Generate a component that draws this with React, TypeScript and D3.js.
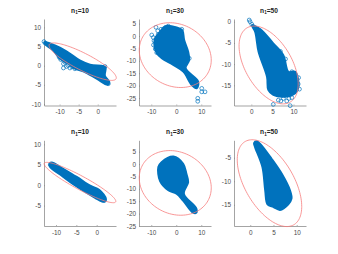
import React, { useEffect, useRef } from 'react';
import * as d3 from 'd3';

type Pt = [number, number];

const BLUE = '#0072bd';
const ELLIPSE_RED = '#f67c7c';
const AXIS_GRAY = '#7d7d7d';
const LABEL_GRAY = '#4a4a4a';

const titles = ['10', '30', '50', '10', '30', '50'];

// solid part of each cloud
const cloudA: Pt[] = [[-13.9, 6.2], [-11.2, 5.3], [-8.2, 3.8], [-4.7, 1.4], [-2, 0.3], [1.5, -0.1], [2.1, -0.5], [1.9, -2.6], [3.05, -4.3], [2.6, -5], [-0.3, -3.4], [-3.8, -1.5], [-6, -0.8], [-7.7, 0.5], [-9.9, 1.8], [-11.7, 4], [-13.9, 5.7]];
const cloudB: Pt[] = [[-4.5, 4], [0.2, 3.5], [2.4, 2.4], [3.2, -1.6], [4.8, -6.3], [5.2, -9.7], [3.8, -13], [8.8, -18.4], [8.2, -21.1], [6.2, -19.8], [2.8, -14.4], [-1.2, -11.7], [-5.8, -9], [-7.8, -7], [-8.8, -3.6], [-8.5, -0.9], [-6.5, 1.7]];
const cloudC: Pt[] = [[0.1, -0.8], [2.1, -1.7], [5.2, -5.1], [7.6, -7.9], [8.8, -11.8], [10.4, -11.8], [11.2, -15.3], [10.4, -16.9], [8, -17.7], [5.2, -17.3], [4, -16.1], [3.7, -13], [1.7, -7.1], [0.9, -2.4]];
const cloudD: Pt[] = [[-11.6, 5.3], [-10.8, 5.55], [-9, 4.5], [-4.9, 2.05], [-1.6, -0.1], [0.6, -1.1], [2.3, -3.4], [1.8, -4.1], [-0.4, -3.1], [-5.3, -0.1], [-9, 2.6], [-11.5, 4.5]];
const cloudE: Pt[] = [[-1.1, 3.1], [2.8, 0.1], [4.1, -3.9], [4.8, -7.3], [3.1, -12], [8.1, -18], [7.9, -19.8], [6.4, -19.4], [2.8, -14.9], [0.1, -12], [-3.2, -10.6], [-6.5, -6.9], [-7.2, -1.2], [-5.9, 0.8]];
const cloudF: Pt[] = [[1.4, -1.5], [2.1, -2], [4.6, -5.2], [6.8, -8.4], [8.6, -12], [8.9, -13.7], [8.2, -14.9], [6.4, -16.1], [5, -15.5], [3.7, -14.9], [3.2, -12], [2.6, -7], [1, -2.7], [0.8, -1.9]];

// open circles that stand clear of the solid part
const strayA: Pt[] = [[-9, 0.5], [-9, -0.6], [-8.2, -0.2], [-7.3, -0.6], [-6, -0.8], [-10.4, 2.9], [-9.7, 1.6], [-14.1, 6.3], [-13.8, 5.9], [2.8, -4.7], [1.9, -0.2], [-8.6, 0.9], [-6.8, -0.3], [-7.8, 0.1], [-10.1, 2.2]];
const strayB: Pt[] = [[-8.1, 3.5], [-7.4, 2.1], [-9.8, 0.4], [-6.1, 2.7], [-8.9, -1.9], [-7.8, -6.7], [5.2, -9], [10.2, -21.1], [11.5, -22.5], [10.2, -22.5], [8.6, -25.1], [8.6, -26.3], [2.2, 2.7], [-3.2, 4], [-9.2, -0.6], [-9.1, -3.6], [-8.4, -5.2], [-7.2, 0.6]];
const strayC: Pt[] = [[-0.5, 0.4], [-0.3, 0], [0.1, -0.6], [5.2, -19.5], [9.2, -19.8], [6.4, -18.5], [7.6, -18.1], [9.6, -17.9], [11.2, -13.2], [11.4, -15.9], [9.6, -11.8], [10.4, -13.7], [8.4, -18.7], [7, -18.7], [8.9, -18.1], [6.9, -7], [8.1, -8.8], [11.1, -14.7]];
const strayD: Pt[] = [[-11.4, 5], [1.9, -3.7]];
const strayE: Pt[] = [];
const strayF: Pt[] = [];

// ellipses as centre plus two conjugate half axes, in data units
const ellipseA = { c: [-3.95, 1.05], u: [8.77, -4.47], v: [1, 1.99] };
const ellipseB = { c: [-0.4, -7.7], u: [14.4, -2], v: [0, 12.9] };
const ellipseC = { c: [4.1, -10.2], u: [7, -4.5], v: [0, 8] };
const ellipseD = { c: [-4.1, 0.65], u: [8.77, -4.73], v: [0.78, 1.44] };
const ellipseE = { c: [-0.4, -7.6], u: [14.4, -2], v: [0, 12.9] };
const ellipseF = { c: [4.14, -10.4], u: [6.94, -4.96], v: [0, 7.77] };

const xTicks = [[-10, -5, 0], [-10, 0, 10], [0, 5, 10], [-10, -5, 0], [-10, 0, 10], [0, 5, 10]];
const yTicks = [
  [10, 5, 0, -5, -10],
  [5, 0, -5, -10, -15, -20, -25],
  [0, -5, -10, -15],
  [10, 5, 0, -5],
  [5, 0, -5, -10, -15, -20, -25],
  [-5, -10, -15],
];
const xDomains: Pt[] = [[-14.1, 4.8], [-14.9, 13.9], [-4.1, 12.95], [-12.95, 4.75], [-14.9, 13.9], [-3.5, 12]];
const yDomains: Pt[] = [[-10.4, 12.2], [-28, 6.85], [-19.76, 0.64], [-10, 11], [-25, 9.6], [-19.5, -1.3]];

const clouds = [cloudA, cloudB, cloudC, cloudD, cloudE, cloudF];
const strays = [strayA, strayB, strayC, strayD, strayE, strayF];
const ellipses = [ellipseA, ellipseB, ellipseC, ellipseD, ellipseE, ellipseF];

const lefts = [44, 139, 234];
const plotW = 72;
const tops = [19, 140.3];
const bottoms = [105.5, 226];
const titleX = [80, 175, 269];
const titleY = [12.5, 134];

function Axes({ x, y, xt, yt, bottom, left }: any) {
  const gx = useRef<SVGGElement>(null);
  const gy = useRef<SVGGElement>(null);
  useEffect(() => {
    const dress = (g: any) => {
      g.attr('font-family', '"Liberation Sans", Arial, sans-serif').attr('font-size', 6.4);
      g.select('.domain').attr('stroke', AXIS_GRAY).attr('stroke-width', 0.7);
      g.selectAll('.tick line').attr('stroke', AXIS_GRAY).attr('stroke-width', 0.6);
      g.selectAll('.tick text').attr('fill', LABEL_GRAY);
    };
    d3.select(gx.current!)
      .call(d3.axisBottom(x).tickValues(xt).tickSize(-1).tickSizeOuter(0).tickPadding(4).tickFormat((d: any) => String(d)) as any)
      .call(dress);
    d3.select(gy.current!)
      .call(d3.axisLeft(y).tickValues(yt).tickSize(-1).tickSizeOuter(0).tickPadding(3).tickFormat((d: any) => String(d)) as any)
      .call(dress);
  }, []);
  return (
    <g>
      <g ref={gx} transform={`translate(0,${bottom})`} />
      <g ref={gy} transform={`translate(${left},0)`} />
    </g>
  );
}

function Panel({ i }: { i: number }) {
  const col = i % 3;
  const row = i < 3 ? 0 : 1;
  const left = lefts[col];
  const x = d3.scaleLinear().domain(xDomains[i]).range([left, left + plotW]);
  const y = d3.scaleLinear().domain(yDomains[i]).range([bottoms[row], tops[row]]);
  const line = d3.line<Pt>().x((d) => x(d[0])).y((d) => y(d[1]));
  const blob = d3.line<Pt>().x((d) => x(d[0])).y((d) => y(d[1])).curve(d3.curveCatmullRomClosed.alpha(0.5));
  const e = ellipses[i];
  const ring = d3.range(0, 2 * Math.PI, 0.05).map((t): Pt => [
    e.c[0] + e.u[0] * Math.cos(t) + e.v[0] * Math.sin(t),
    e.c[1] + e.u[1] * Math.cos(t) + e.v[1] * Math.sin(t),
  ]);
  return (
    <g>
      <Axes x={x} y={y} xt={xTicks[i]} yt={yTicks[i]} bottom={bottoms[row]} left={left} />
      <path d={blob(clouds[i])!} fill={BLUE} stroke={BLUE} strokeWidth={1.8} strokeLinejoin="round" />
      {strays[i].map((d, k) => (
        <circle key={k} cx={x(d[0])} cy={y(d[1])} r={1.9} fill="none" stroke={BLUE} strokeWidth={0.7} />
      ))}
      <path d={line(ring) + 'Z'} fill="none" stroke={ELLIPSE_RED} strokeWidth={0.8} />
      <text
        x={titleX[col]}
        y={titleY[row]}
        textAnchor="middle"
        fontFamily='"Liberation Sans", Arial, sans-serif'
        fontWeight="bold"
        fontSize={6.6}
        fill="#222"
      >
        n<tspan fontSize={4.6} dy={1.5}>1</tspan>
        <tspan dy={-1.5}>={titles[i]}</tspan>
      </text>
    </g>
  );
}

export default function App() {
  return (
    <svg width={338} height={254} style={{ position: 'absolute', left: 0, top: 0, background: '#fff' }}>
      {titles.map((_, i) => (
        <Panel key={i} i={i} />
      ))}
    </svg>
  );
}
